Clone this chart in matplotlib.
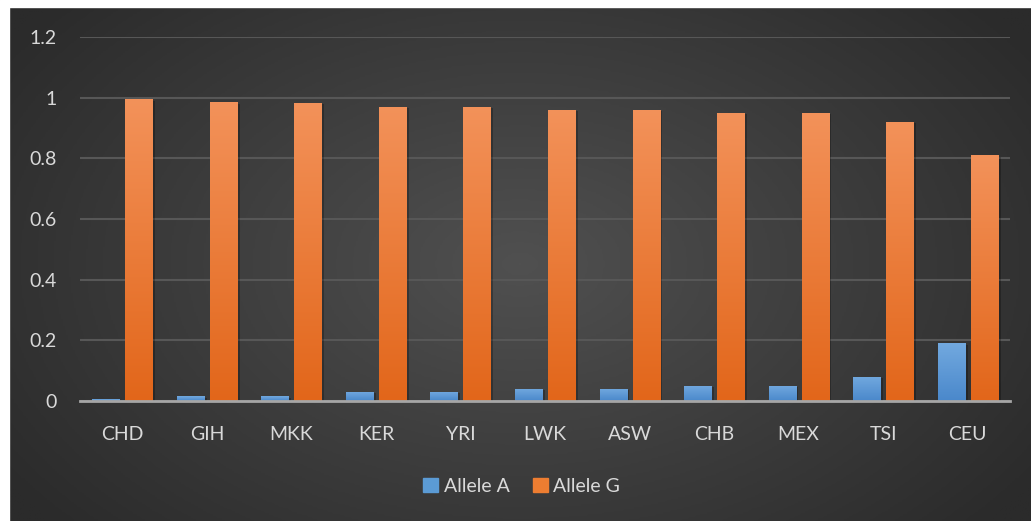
import numpy as np
import matplotlib.pyplot as plt
import matplotlib.patheffects as pe
from matplotlib.colors import LinearSegmentedColormap
from matplotlib.patches import Rectangle

plt.rcParams['font.family'] = ['Lato', 'DejaVu Sans']

pops = ['CHD', 'GIH', 'MKK', 'KER', 'YRI', 'LWK', 'ASW', 'CHB', 'MEX', 'TSI', 'CEU']
allele_a = [0.005, 0.015, 0.016, 0.03, 0.03, 0.04, 0.04, 0.05, 0.05, 0.08, 0.19]
allele_g = [0.995, 0.985, 0.984, 0.97, 0.97, 0.96, 0.96, 0.95, 0.95, 0.92, 0.81]
yticks = [0, 0.2, 0.4, 0.6, 0.8, 1, 1.2]
ytick_labels = ['0', '0.2', '0.4', '0.6', '0.8', '1', '1.2']

W, H = 1031, 521
fig = plt.figure(figsize=(W/100, H/100), dpi=100)
fig.patch.set_facecolor('#2b2b2b')

# dark radial background
bg = fig.add_axes([9/W, 0, (W-9)/W, (H-7)/H])
yy, xx = np.mgrid[-1:1:300j, -1:1:600j]
r = np.sqrt((xx*0.95)**2 + (yy*0.75)**2)
bg_cmap = LinearSegmentedColormap.from_list('bg', ['#505050', '#2b2b2b'])
bg.imshow(r, cmap=bg_cmap, aspect='auto', extent=[0, 1, 0, 1], vmin=0, vmax=1.15)
bg.set_xlim(0, 1)
bg.set_ylim(0, 1)
bg.set_axis_off()
# white margin on top and left
fig.patches.append(Rectangle((0, 1-7/H), 1, 7/H, transform=fig.transFigure, color='white', zorder=10))
fig.patches.append(Rectangle((0, 0), 9/W, 1, transform=fig.transFigure, color='white', zorder=10))

ax = fig.add_axes([80/W, 1-401/H, 930/W, (401-37)/H])
ax.patch.set_alpha(0)

x = np.arange(len(pops))
bw = 0.32
gap = 0.07
shadow = [pe.SimplePatchShadow(offset=(2, -1), alpha=0.25, shadow_rgbFace='black'), pe.Normal()]
bars_a = ax.bar(x - (bw+gap)/2, allele_a, bw, color='#5b9bd5', label='Allele A', zorder=3,
                path_effects=shadow)
bars_g = ax.bar(x + (bw+gap)/2, allele_g, bw, color='#ed7d31', label='Allele G', zorder=3,
                path_effects=shadow)

# vertical gradient on bars
def grad(bars, top, bottom):
    cm = LinearSegmentedColormap.from_list('g', [bottom, top])
    g = np.linspace(0, 1, 256).reshape(-1, 1)
    for b in bars:
        x0, w, h = b.get_x(), b.get_width(), b.get_height()
        im = ax.imshow(g, cmap=cm, origin='lower', aspect='auto',
                       extent=[x0, x0+w, 0, h], zorder=4)
        im.set_clip_path(b)

grad(bars_a, '#72a9df', '#4a88cb')
grad(bars_g, '#f3925a', '#e2661a')

ax.set_xlim(-0.5, len(pops)-0.5)
ax.set_ylim(0, 1.2)
ax.set_yticks(yticks)
ax.set_yticklabels(ytick_labels)
ax.set_xticks(x)
ax.set_xticklabels(pops)
ax.tick_params(length=0, colors='#d9d9d9', labelsize=14)
ax.tick_params(axis='y', pad=17)
ax.tick_params(axis='x', pad=18)
ax.grid(axis='y', color='#575757', linewidth=1.5, zorder=0)
ax.set_axisbelow(True)
for s in ['top', 'right', 'left']:
    ax.spines[s].set_visible(False)
ax.spines['bottom'].set_color('#a6a6a6')
ax.spines['bottom'].set_linewidth(2)
ax.spines['bottom'].set_zorder(5)

leg = ax.legend(loc='center', bbox_to_anchor=(0.475, -0.235), ncol=2, frameon=False,
                fontsize=14, labelcolor='#d9d9d9', handlelength=0.75, handleheight=0.75,
                handletextpad=0.3, columnspacing=1.2)
for hnd, c in zip(leg.legend_handles, ['#5b9bd5', '#ed7d31']):
    hnd.set_path_effects([])
    hnd.set_color(c)

fig.savefig('out.png', dpi=100, facecolor=fig.get_facecolor())
